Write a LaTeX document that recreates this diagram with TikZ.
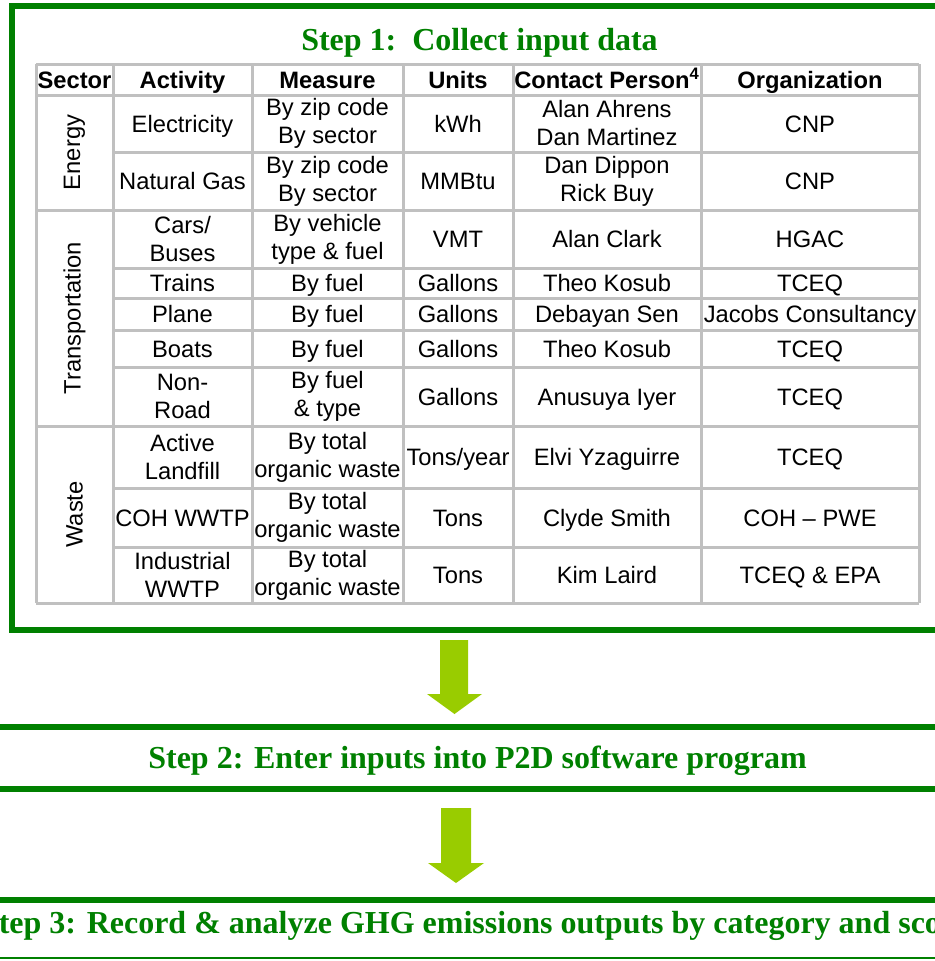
\documentclass[tikz,border=0pt]{standalone}
\usepackage{fontspec}
\setmainfont{Liberation Serif}
\setsansfont{Liberation Sans}
\definecolor{stepgreen}{HTML}{008000}
\definecolor{arrowgreen}{HTML}{99CC00}
\definecolor{gridgray}{HTML}{C0C0C0}
\tikzset{
  cellpair/.style={align=center, inner sep=0pt, font=\sffamily\fontsize{17.8}{21}\selectfont},
  cell/.style={cellpair, text height=13pt, text depth=0pt},
  headcell/.style={inner sep=0pt, text height=13pt, text depth=0pt, font=\sffamily\bfseries\fontsize{17.8}{21}\selectfont},
  steptitle/.style={text=stepgreen, inner sep=0pt, anchor=base, font=\rmfamily\bfseries\fontsize{24}{28}\selectfont},
  gridline/.style={gridgray, line width=2.25pt},
  greenline/.style={stepgreen, line width=4.5pt},
  blockarrow/.style={fill=arrowgreen}
}

\begin{document}
\begin{tikzpicture}[x=0.75pt,y=-0.75pt]
  \useasboundingbox (0,0) rectangle (935,961);
  \clip (0,0) rectangle (935,961);
  % step 1 frame and title
  \draw[greenline] (12,6) rectangle (980,630);
  \node[steptitle] (step1) at (479.5,50) {Step 1:\ \ Collect input data};
  % table grid
  \foreach \x in {36,113,252,403,513,701,919}
    \draw[gridline] (\x,64) -- (\x,603);
  \foreach \y in {64,95,210,426,603}
    \draw[gridline] (36,\y) -- (919,\y);
  \foreach \y in {152,268,298,330,367,488,547}
    \draw[gridline] (113,\y) -- (919,\y);
  % header
  \node[headcell] (hsector) at (74.5,79.5) {Sector};
  \node[headcell] (hactivity) at (182.5,79.5) {Activity};
  \node[headcell] (hmeasure) at (327.5,79.5) {Measure};
  \node[headcell] (hunits) at (458,79.5) {Units};
  \node[headcell] (hcontact) at (607,79.5) {Contact Person\textsuperscript{4}};
  \node[headcell] (horg) at (810,79.5) {Organization};
  % sectors
  \node[cellpair,rotate=90] (energy) at (74.5,152.5) {Energy};
  \node[cellpair,rotate=90] (transport) at (74.5,318) {Transportation};
  \node[cellpair,rotate=90] (waste) at (74.5,514.5) {Waste};
  % energy rows
  \node[cell] (elec) at (182.5,123.5) {Electricity};
  \node[cellpair] (elecm) at (327.5,123.5) {By zip code\\By sector};
  \node[cell] (elecu) at (458,123.5) {kWh};
  \node[cellpair] (elecc) at (607,123.5) {Alan Ahrens\\Dan Martinez};
  \node[cell] (eleco) at (810,123.5) {CNP};
  \node[cell] (gas) at (182.5,181) {Natural Gas};
  \node[cellpair] (gasm) at (327.5,181) {By zip code\\By sector};
  \node[cell] (gasu) at (458,181) {MMBtu};
  \node[cellpair] (gasc) at (607,181) {Dan Dippon\\Rick Buy};
  \node[cell] (gaso) at (810,181) {CNP};
  % transportation rows
  \node[cellpair] (cars) at (182.5,239) {Cars/\\Buses};
  \node[cellpair] (carsm) at (327.5,239) {By vehicle\\type \& fuel};
  \node[cell] (carsu) at (458,239) {VMT};
  \node[cell] (carsc) at (607,239) {Alan Clark};
  \node[cell] (carso) at (810,239) {HGAC};
  \node[cell] (trains) at (182.5,283) {Trains};
  \node[cell] (trainsm) at (327.5,283) {By fuel};
  \node[cell] (trainsu) at (458,283) {Gallons};
  \node[cell] (trainsc) at (607,283) {Theo Kosub};
  \node[cell] (trainso) at (810,283) {TCEQ};
  \node[cell] (plane) at (182.5,314) {Plane};
  \node[cell] (planem) at (327.5,314) {By fuel};
  \node[cell] (planeu) at (458,314) {Gallons};
  \node[cell] (planec) at (607,314) {Debayan Sen};
  \node[cell] (planeo) at (810,314) {Jacobs Consultancy};
  \node[cell] (boats) at (182.5,348.5) {Boats};
  \node[cell] (boatsm) at (327.5,348.5) {By fuel};
  \node[cell] (boatsu) at (458,348.5) {Gallons};
  \node[cell] (boatsc) at (607,348.5) {Theo Kosub};
  \node[cell] (boatso) at (810,348.5) {TCEQ};
  \node[cellpair] (nonroad) at (182.5,396.5) {Non-\\Road};
  \node[cellpair] (nonroadm) at (327.5,396.5) {By fuel\\\& type};
  \node[cell] (nonroadu) at (458,396.5) {Gallons};
  \node[cell] (nonroadc) at (607,396.5) {Anusuya Iyer};
  \node[cell] (nonroado) at (810,396.5) {TCEQ};
  % waste rows
  \node[cellpair] (landfill) at (182.5,457) {Active\\Landfill};
  \node[cellpair] (landfillm) at (327.5,457) {By total\\organic waste};
  \node[cell] (landfillu) at (458,457) {Tons/year};
  \node[cell] (landfillc) at (607,457) {Elvi Yzaguirre};
  \node[cell] (landfillo) at (810,457) {TCEQ};
  \node[cell] (coh) at (182.5,517.5) {COH WWTP};
  \node[cellpair] (cohm) at (327.5,517.5) {By total\\organic waste};
  \node[cell] (cohu) at (458,517.5) {Tons};
  \node[cell] (cohc) at (607,517.5) {Clyde Smith};
  \node[cell] (coho) at (810,517.5) {COH -- PWE};
  \node[cellpair] (indus) at (182.5,575) {Industrial\\WWTP};
  \node[cellpair] (indusm) at (327.5,575) {By total\\organic waste};
  \node[cell] (indusu) at (458,575) {Tons};
  \node[cell] (indusc) at (607,575) {Kim Laird};
  \node[cell] (induso) at (810,575) {TCEQ \& EPA};
  % arrow to step 2
  \fill[blockarrow] (440,640) -- (468,640) -- (468,694) -- (482,694) -- (454.5,714)
    -- (427,694) -- (440,694) -- cycle;
  % step 2
  \draw[greenline] (-20,727) rectangle (980,789);
  \node[steptitle] (step2) at (477.5,768) {Step 2: Enter inputs into P2D software program};
  % arrow to step 3
  \fill[blockarrow] (441,808) -- (471,808) -- (471,863) -- (484,863) -- (456,883)
    -- (428,863) -- (441,863) -- cycle;
  % step 3
  \draw[greenline] (-20,900) -- (980,900);
  \draw[stepgreen, line width=1.5pt] (-20,958) -- (980,958);
  \node[steptitle] (step3) at (477,933) {Step 3: Record \& analyze GHG emissions outputs by category and scope};
\end{tikzpicture}
\end{document}
